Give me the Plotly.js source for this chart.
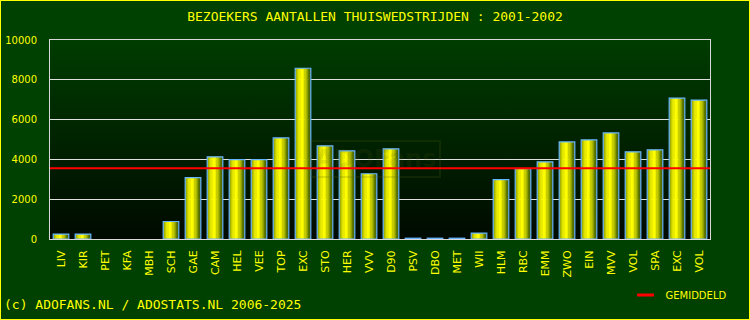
<!DOCTYPE html>
<html>
<head>
<meta charset="utf-8">
<script src="https://cdn.plot.ly/plotly-3.0.1.min.js"></script>
<style>
  html, body { margin: 0; padding: 0; background: #004000; }
  #wrap { position: relative; width: 750px; height: 320px; }
  #chart { width: 750px; height: 320px; }
  #frame { position: absolute; left: 0; top: 0; width: 748px; height: 318px; border: 1px solid #ffff00; pointer-events: none; }
</style>
</head>
<body>
<div id="wrap"><div id="chart"></div><div id="frame"></div></div>
<script>
// ---- data ----
const opponents = ['LIV','KIR','PET','KFA','MBH','SCH','GAE','CAM','HEL','VEE','TOP','EXC','STO','HER','VVV',
                   'D90','PSV','DBO','MET','WII','HLM','RBC','EMM','ZWO','EIN','MVV','VOL','SPA','EXC','VOL'];
const visitors = [250, 250, 0, 0, 0, 880, 3080, 4130, 3990, 3990, 5080, 8580, 4680, 4430, 3280,
                  4530, 40, 40, 40, 300, 2980, 3530, 3880, 4880, 4980, 5330, 4380, 4480, 7080, 6980];
const averageValue = 3560;
const yTicks = [0, 2000, 4000, 6000, 8000, 10000];
const yTickLabels = ['0', '2000', '4000', '6000', '8000', '10000'];
const titleText = 'BEZOEKERS AANTALLEN THUISWEDSTRIJDEN : 2001-2002';
const footerText = '(c) ADOFANS.NL / ADOSTATS.NL 2006-2025';
const legendText = 'GEMIDDELD';

// ---- styling ----
const idx = opponents.map((_, i) => i);
const shown = visitors.map(v => (v > 0 ? v : null));
const barWidth = 0.71;
const stripeColors = ['#98a800','#bcc800','#dee200','#f6f600','#ffff00','#fcfc00',
                      '#eeee00','#d2d600','#aeb800','#889c00','#647e00','#486400'];
const n = stripeColors.length;
const sw = barWidth / n;

const traces = [];
stripeColors.forEach((c, i) => {
  traces.push({
    type: 'bar', x: idx, y: shown,
    width: Math.min(sw * 1.35, barWidth - i * sw), offset: -barWidth / 2 + i * sw,
    marker: { color: c, line: { width: 0 } },
    showlegend: false, hoverinfo: 'skip'
  });
});
// outline
traces.push({
  type: 'bar', x: idx, y: shown, width: barWidth, offset: -barWidth / 2,
  marker: { color: 'rgba(0,0,0,0)', line: { color: '#66b4ff', width: 1.2 } },
  showlegend: false, hoverinfo: 'skip'
});
// average line
const xr = [-0.5, opponents.length - 0.5];
traces.push({
  type: 'scatter', mode: 'lines', x: xr, y: [averageValue, averageValue],
  line: { color: '#ff0000', width: 2 }, showlegend: false, hoverinfo: 'skip'
});
// legend key
traces.push({
  type: 'scatter', mode: 'markers', x: [null], y: [null], name: legendText,
  marker: { symbol: 'line-ew-open', size: 12, color: '#ff0000', line: { color: '#ff0000', width: 3 } },
  showlegend: true
});

const bgSvg = '<svg xmlns="http://www.w3.org/2000/svg" width="10" height="100" preserveAspectRatio="none">' +
  '<defs><linearGradient id="g" x1="0" y1="0" x2="0" y2="1">' +
  '<stop offset="0" stop-color="#003c00"/><stop offset="1" stop-color="#000a00"/>' +
  '</linearGradient></defs><rect width="10" height="100" fill="url(#g)"/></svg>';

const yellow = '#ffff00';
const layout = {
  width: 750, height: 320,
  margin: { l: 50, r: 40, t: 40, b: 80, pad: 0 },
  paper_bgcolor: '#004000',
  plot_bgcolor: 'rgba(0,0,0,0)',
  barmode: 'overlay',
  title: {
    text: titleText, x: 0.5, xanchor: 'center', y: 0.95, yanchor: 'middle',
    font: { family: 'DejaVu Sans Mono', size: 13, color: yellow }
  },
  xaxis: {
    range: xr, tickmode: 'array', tickvals: idx, ticktext: opponents,
    tickangle: -90, showgrid: false, zeroline: false,
    showline: true, mirror: true, linecolor: '#d8d8d8', linewidth: 1,
    ticks: '', ticklabelstandoff: 6,
    tickfont: { family: 'DejaVu Sans', size: 11, color: yellow }
  },
  yaxis: {
    range: [0, 10000], tickmode: 'array', tickvals: yTicks, ticktext: yTickLabels,
    showgrid: true, gridcolor: '#e0e0e0', gridwidth: 1, zeroline: false,
    showline: true, mirror: true, linecolor: '#d8d8d8', linewidth: 1,
    ticks: '', ticklabelstandoff: 10,
    tickfont: { family: 'DejaVu Sans', size: 10, color: yellow }
  },
  images: [{
    source: 'data:image/svg+xml;charset=utf-8,' + encodeURIComponent(bgSvg),
    xref: 'paper', yref: 'paper', x: 0, y: 1, sizex: 1, sizey: 1,
    xanchor: 'left', yanchor: 'top', sizing: 'stretch', layer: 'below'
  }],
  showlegend: true,
  legend: {
    x: 0.872, y: -0.275, xanchor: 'left', yanchor: 'middle',
    bgcolor: 'rgba(0,0,0,0)', borderwidth: 0,
    font: { family: 'DejaVu Sans', size: 10, color: yellow }
  },
  annotations: [
    {
      text: footerText, xref: 'paper', yref: 'paper', x: -0.072, y: -0.33,
      xanchor: 'left', yanchor: 'middle', showarrow: false,
      font: { family: 'DejaVu Sans Mono', size: 13, color: yellow }
    },
    {
      text: '<b>ADOFans</b>', xref: 'x', yref: 'y', x: 14.3, y: 4000,
      xanchor: 'center', yanchor: 'middle', showarrow: false,
      bordercolor: 'rgba(90,100,20,0.18)', borderwidth: 2, borderpad: 3,
      font: { family: 'DejaVu Sans', size: 24, color: 'rgba(90,100,20,0.15)' }
    }
  ]
};

Plotly.newPlot('chart', traces, layout, { staticPlot: true, displayModeBar: false });
</script>
</body>
</html>
